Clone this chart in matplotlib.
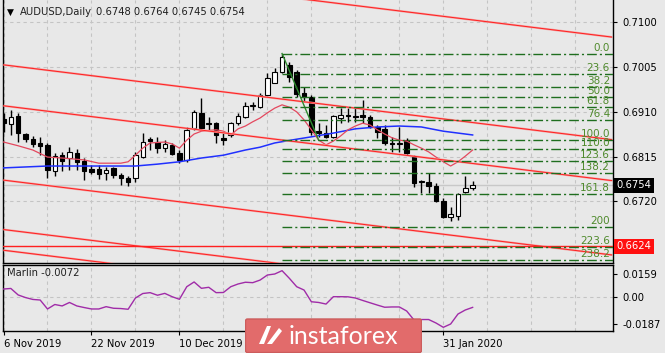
import numpy as np
import matplotlib.pyplot as plt
from matplotlib.patches import FancyBboxPatch, Polygon
import matplotlib.transforms as mtransforms

# ---- candles, AUDUSD daily (bar 0 = 6 Nov 2019)
opens = [0.6895, 0.6884, 0.6901, 0.6863, 0.6852, 0.6844, 0.6840, 0.6784, 0.6818, 0.6812,
         0.6823, 0.6806, 0.6789, 0.6789, 0.6780, 0.6791, 0.6776, 0.6770, 0.6770, 0.6814,
         0.6852, 0.6846, 0.6833, 0.6840, 0.6823, 0.6808, 0.6876, 0.6908, 0.6886, 0.6886,
         0.6855, 0.6861, 0.6886, 0.6899, 0.6923, 0.6920, 0.6946, 0.6971, 0.6995, 0.7010,
         0.6995, 0.6950, 0.6942, 0.6869, 0.6865, 0.6857, 0.6897, 0.6903, 0.6901, 0.6903,
         0.6899, 0.6878, 0.6874, 0.6844, 0.6842, 0.6850, 0.6814, 0.6761, 0.6761, 0.6753,
         0.6721, 0.6687, 0.6689, 0.6740, 0.6748]
highs = [0.6908, 0.6914, 0.6908, 0.6865, 0.6859, 0.6857, 0.6844, 0.6823, 0.6825, 0.6835,
         0.6831, 0.6812, 0.6797, 0.6797, 0.6793, 0.6793, 0.6780, 0.6774, 0.6825, 0.6865,
         0.6857, 0.6857, 0.6850, 0.6844, 0.6829, 0.6878, 0.6914, 0.6940, 0.6899, 0.6889,
         0.6865, 0.6889, 0.6908, 0.6931, 0.6931, 0.6950, 0.6993, 0.7003, 0.7033, 0.7016,
         0.6999, 0.6963, 0.6946, 0.6886, 0.6882, 0.6903, 0.6918, 0.6918, 0.6918, 0.6935,
         0.6903, 0.6882, 0.6882, 0.6857, 0.6878, 0.6855, 0.6818, 0.6765, 0.6780, 0.6759,
         0.6727, 0.6708, 0.6738, 0.6774, 0.6764]
lows = [0.6867, 0.6861, 0.6846, 0.6846, 0.6835, 0.6818, 0.6770, 0.6774, 0.6784, 0.6787,
        0.6787, 0.6765, 0.6778, 0.6767, 0.6765, 0.6770, 0.6755, 0.6753, 0.6761, 0.6812,
        0.6829, 0.6823, 0.6825, 0.6818, 0.6801, 0.6804, 0.6872, 0.6872, 0.6872, 0.6844,
        0.6840, 0.6857, 0.6882, 0.6897, 0.6914, 0.6918, 0.6944, 0.6971, 0.6993, 0.6974,
        0.6942, 0.6931, 0.6861, 0.6857, 0.6855, 0.6855, 0.6886, 0.6889, 0.6889, 0.6886,
        0.6876, 0.6855, 0.6840, 0.6825, 0.6825, 0.6818, 0.6750, 0.6738, 0.6738, 0.6719,
        0.6685, 0.6678, 0.6680, 0.6738, 0.6745]
closes = [0.6886, 0.6899, 0.6865, 0.6852, 0.6842, 0.6838, 0.6787, 0.6816, 0.6806, 0.6825,
          0.6804, 0.6784, 0.6782, 0.6778, 0.6787, 0.6776, 0.6770, 0.6761, 0.6818, 0.6846,
          0.6848, 0.6833, 0.6842, 0.6821, 0.6808, 0.6872, 0.6910, 0.6876, 0.6884, 0.6861,
          0.6850, 0.6886, 0.6901, 0.6923, 0.6925, 0.6946, 0.6982, 0.6995, 0.7027, 0.6984,
          0.6948, 0.6942, 0.6867, 0.6865, 0.6857, 0.6901, 0.6903, 0.6901, 0.6899, 0.6899,
          0.6878, 0.6867, 0.6844, 0.6842, 0.6844, 0.6823, 0.6759, 0.6763, 0.6753, 0.6721,
          0.6687, 0.6693, 0.6736, 0.6748, 0.6754]

# ---- moving averages (bar index, value)
ma_fast_bars = [0, 2, 4, 6, 8, 11, 13, 16, 17, 18, 19, 20, 22, 23, 24, 25, 26, 27, 29, 30,
                31, 32, 33, 34, 35, 36, 37, 38, 39, 40, 41, 42, 43, 44, 45, 46, 47, 48, 49, 50,
                51, 52, 53, 54, 55, 56, 57, 58, 59, 60, 61, 62, 63, 64]
ma_fast = [0.6846, 0.6838, 0.6829, 0.6814, 0.6812, 0.6808, 0.6801, 0.6801, 0.6804, 0.6818,
           0.6833, 0.6844, 0.6846, 0.6842, 0.6833, 0.6850, 0.6863, 0.6869, 0.6872, 0.6869,
           0.6861, 0.6874, 0.6880, 0.6889, 0.6897, 0.6908, 0.6918, 0.6925, 0.6920, 0.6910,
           0.6893, 0.6872, 0.6850, 0.6840, 0.6848, 0.6859, 0.6872, 0.6880, 0.6886, 0.6882,
           0.6872, 0.6863, 0.6855, 0.6850, 0.6848, 0.6840, 0.6833, 0.6825, 0.6814, 0.6804,
           0.6795, 0.6804, 0.6816, 0.6829]
ma_slow_bars = [0, 6, 13, 18, 21, 24, 27, 30, 33, 35, 37, 40, 42, 45, 48, 51, 54, 57, 60, 64]
ma_slow = [0.6791, 0.6795, 0.6795, 0.6795, 0.6799, 0.6804, 0.6812, 0.6818, 0.6829, 0.6835,
           0.6844, 0.6852, 0.6857, 0.6865, 0.6874, 0.6878, 0.6880, 0.6878, 0.6869, 0.6861]

# ---- Marlin oscillator
marlin = [0.0055, 0.0059, 0.0014, -0.0004, -0.0017, -0.0021, -0.0083, -0.0052, -0.0062, -0.0038,
          -0.0062, -0.0073, -0.0083, -0.0083, -0.0067, -0.0078, -0.0080, -0.0085, -0.0007, 0.0024,
          0.0030, 0.0012, 0.0025, 0.0002, -0.0016, 0.0071, 0.0104, 0.0060, 0.0067, 0.0030,
          0.0031, 0.0071, 0.0090, 0.0102, 0.0099, 0.0117, 0.0152, 0.0159, 0.0182, 0.0129,
          0.0071, 0.0048, -0.0033, -0.0038, -0.0049, 0.0002, 0.0002, 0.0001, -0.0007, -0.0024,
          -0.0040, -0.0056, -0.0071, -0.0069, -0.0069, -0.0097, -0.0159, -0.0156, -0.0156, -0.0180,
          -0.0210, -0.0187, -0.0118, -0.0090, -0.0072]

# ---- drawn objects
channel_bars = [0, 83]
channel_start = [0.7228, 0.7010, 0.6923, 0.6765, 0.6660, 0.6616]
channel_end = [0.7069, 0.6851, 0.6764, 0.6606, 0.6501, 0.6457]
level_line = 0.6624

fib_bars = [38, 43]
fib_high = 0.7034
fib_low = 0.6850
fib_levels = [0.0, 23.6, 38.2, 50.0, 61.8, 76.4, 100.0, 110.0, 123.6, 138.2, 161.8, 200.0, 223.6, 238.2]
fib_labels = ['0.0', '23.6', '38.2', '50.0', '61.8', '76.4', '100.0', '110.0', '123.6', '138.2',
              '161.8', '200', '223.6', '238.2']

last_price = 0.6754
# labels for bars 36 and 48 sit under the logo in the original
date_ticks = [0, 12, 24, 36, 48, 60]
date_labels = ['6 Nov 2019', '22 Nov 2019', '10 Dec 2019', '', '', '31 Jan 2020']
price_ticks = [0.7100, 0.7005, 0.6910, 0.6815, 0.6720]
price_grid = price_ticks + [0.6625]
marlin_ticks = [0.0159, 0.0, -0.0187]
marlin_tick_labels = ['0.0159', '0.00', '-0.0187']

bg = '#e8e8e8'
grid_c = '#c4c4c4'
fs = 7.2
W, H = 665, 353

fig = plt.figure(figsize=(W / 100, H / 100), dpi=100, facecolor=bg)
ax = fig.add_axes([3 / W, 90 / H, 610 / W, 263 / H], facecolor=bg)
ax2 = fig.add_axes([3 / W, 22 / H, 610 / W, 66 / H], facecolor=bg)

xlim = (-0.07, 83.15)
n = len(opens)
x = np.arange(n)

# grid
for a in (ax, ax2):
    for b in range(0, 84, 6):
        a.axvline(b, color=grid_c, lw=0.8, ls=(0, (3, 3)), zorder=0)
for p in price_grid:
    ax.axhline(p, color=grid_c, lw=0.8, ls=(0, (3, 3)), zorder=0)
ax2.axhline(0, color=grid_c, lw=0.8, ls=(0, (3, 3)), zorder=0)

# last price line
ax.axhline(last_price, color='#c8c8c8', lw=1.0, zorder=1)

# candles
o = np.array(opens)
c = np.array(closes)
up = c >= o
ax.vlines(x, lows, highs, color='black', lw=1.0, zorder=3)
body_h = np.maximum(np.abs(c - o), 0.00006)
ax.bar(x[up], body_h[up], bottom=o[up], width=0.62, facecolor='white',
       edgecolor='black', lw=0.8, zorder=4)
ax.bar(x[~up], body_h[~up], bottom=c[~up], width=0.62, facecolor='black',
       edgecolor='black', lw=0.8, zorder=4)

# moving averages
ax.plot(ma_slow_bars, ma_slow, color='#2030ff', lw=1.1, zorder=5)
ax.plot(ma_fast_bars, ma_fast, color='#e4485e', lw=0.9, zorder=5)

# channel lines
for p0, p1 in zip(channel_start, channel_end):
    ax.plot(channel_bars, [p0, p1], color='#f5a0a0', lw=1.5, zorder=6, solid_capstyle='butt')
    ax.plot(channel_bars, [p0, p1], color='#ff2020', lw=0.7, zorder=6)
ax.axhline(level_line, color='#ff2020', lw=1.0, zorder=6)

# fibonacci
fib_c = '#1f6e1f'
ax.plot(fib_bars, [fib_high, fib_low], color='#2e8b2e', lw=1.0, zorder=6)
trans = mtransforms.blended_transform_factory(ax.transAxes, ax.transData)
for lv, lb in zip(fib_levels, fib_labels):
    p = fib_high - lv / 100.0 * (fib_high - fib_low)
    ax.plot([fib_bars[0], xlim[1]], [p, p], color=fib_c, lw=1.0,
            ls=(0, (7, 2.2, 1.5, 2.2)), zorder=6)
    ax.text(0.995, p + 0.0002, lb, transform=trans, ha='right', va='bottom',
            fontsize=fs + 0.3, color='#4f8a2c', zorder=7)

ax.set_xlim(*xlim)
ax.set_ylim(0.65889, 0.71478)
ax.yaxis.tick_right()
ax.set_yticks(price_ticks)
ax.set_yticklabels(['%.4f' % p for p in price_ticks])
ax.set_xticks([])
ax.tick_params(axis='y', length=3, width=0.8, pad=4, labelsize=fs, colors='black')
for s in ('left', 'right', 'bottom'):
    ax.spines[s].set_color('black')
    ax.spines[s].set_linewidth(1.0)
ax.spines['top'].set_visible(False)

# price boxes on the axis
ax.text(1.006, last_price, '%.4f' % last_price, transform=trans, ha='left', va='center',
        fontsize=fs, color='white', zorder=10, clip_on=False,
        bbox=dict(boxstyle='square,pad=0.28', fc='black', ec='none'))
ax.text(1.006, level_line, '%.4f' % level_line, transform=trans, ha='left', va='center',
        fontsize=fs, color='white', zorder=10, clip_on=False,
        bbox=dict(boxstyle='square,pad=0.28', fc='#ff1010', ec='none'))

# Marlin panel
ax2.plot(x, marlin, color='#a02ca8', lw=1.0, zorder=3)
ax2.set_xlim(*xlim)
ax2.set_ylim(-0.02354, 0.02213)
ax2.yaxis.tick_right()
ax2.set_yticks(marlin_ticks)
ax2.set_yticklabels(marlin_tick_labels)
ax2.set_xticks(date_ticks)
ax2.set_xticklabels(date_labels, ha='left')
ax2.tick_params(axis='y', length=3, width=0.8, pad=4, labelsize=fs)
ax2.tick_params(axis='x', length=3, width=0.8, pad=3, labelsize=fs)
for s in ax2.spines.values():
    s.set_color('black')
    s.set_linewidth(1.0)
ax2.text(0.007, 0.88, 'Marlin -0.0072', transform=ax2.transAxes, ha='left', va='center',
         fontsize=fs, color='#202020')

# header
fig.text(7 / W, 1 - 12 / H, '\u25bc', fontsize=6.5, va='center', ha='left', color='black')
fig.text(20 / W, 1 - 12 / H, 'AUDUSD,Daily', fontsize=fs, va='center', ha='left', color='#202020')
fig.text(96 / W, 1 - 12 / H, '%.4f %.4f %.4f %.4f' % (opens[-1], highs[-1], lows[-1], closes[-1]),
         fontsize=fs, va='center', ha='left', color='#202020')

# logo
lg = fig.add_axes([245 / W, 0, 177 / W, 35 / H])
lg.set_xlim(0, 177)
lg.set_ylim(0, 35)
lg.axis('off')
lg.add_patch(FancyBboxPatch((0.5, 0.5), 176, 33.5, boxstyle='round,pad=0,rounding_size=2',
                            fc='#e26b6b', ec='#cc5c5c', lw=1))
lg.add_patch(Polygon([[14, 9], [22, 27], [26, 27], [19, 9]], closed=True, fc='white', ec='none'))
lg.add_patch(Polygon([[22, 9], [34, 25], [37, 22], [27, 9]], closed=True, fc='white', ec='none'))
lg.text(44, 16.5, 'instaforex', fontsize=18, color='white', ha='left', va='center',
        family='Lato')

fig.savefig('out.png', dpi=100, facecolor=bg)
